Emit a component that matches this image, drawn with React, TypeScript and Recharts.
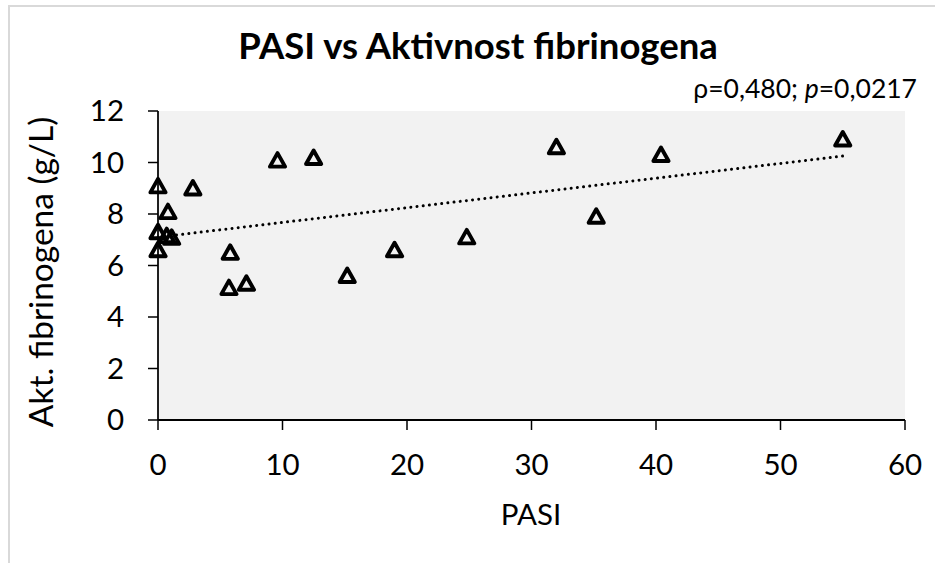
import React from 'react';
import { ScatterChart, Scatter, XAxis, YAxis, CartesianGrid } from 'recharts';

const pasi = [0, 0, 0, 0.8, 0.7, 1.1, 2.8, 5.8, 5.7, 7.1, 9.6, 12.5, 15.2, 19.0, 24.8, 32.0, 35.2, 40.4, 55.0];
const fibrinogen = [9.08, 7.3, 6.6, 8.08, 7.15, 7.08, 9.0, 6.5, 5.13, 5.3, 10.08, 10.18, 5.6, 6.6, 7.1, 10.6, 7.9, 10.3, 10.9];
const trendPasi = [0, 55];
const trendFib = [7.1, 10.25];
const xTicks = [0, 10, 20, 30, 40, 50, 60];
const yTicks = [0, 2, 4, 6, 8, 10, 12];

const points = pasi.map((x, i) => ({ x, y: fibrinogen[i] }));
const trend = trendPasi.map((x, i) => ({ x, y: trendFib[i] }));

const FONT = 'Lato, "Open Sans", sans-serif';

const Triangle = (props: any) => {
  const { cx, cy } = props;
  if (cx == null || cy == null) return <g />;
  const d = `M ${cx} ${cy - 7.3} L ${cx + 7.6} ${cy + 6.2} L ${cx - 7.6} ${cy + 6.2} Z`;
  return <path d={d} fill="none" stroke="#000" strokeWidth={3.9} strokeLinejoin="round" />;
};

const Nothing = () => <g />;

export default function App() {
  const tickStyle = { fill: '#000', fontSize: 29.5, fontFamily: FONT };
  return (
    <div style={{ position: 'absolute', left: 0, top: 0, width: 935, height: 563, background: '#fff', overflow: 'hidden' }}>
      <div
        style={{
          position: 'absolute',
          left: 8,
          top: 5,
          width: 940,
          height: 570,
          borderLeft: '2px solid #d9d9d9',
          borderTop: '2px solid #d9d9d9',
        }}
      />
      <div style={{ position: 'absolute', left: 0, top: 0 }}>
        <ScatterChart width={935} height={563} margin={{ top: 111, right: 30, bottom: 0, left: 0 }}>
          <CartesianGrid horizontal={false} vertical={false} fill="#f2f2f2" stroke="none" />
          <XAxis
            type="number"
            dataKey="x"
            domain={[0, 60]}
            ticks={xTicks}
            interval={0}
            height={143}
            tickSize={10}
            tickMargin={24}
            axisLine={{ stroke: '#000', strokeWidth: 2 }}
            tickLine={{ stroke: '#000', strokeWidth: 1.5 }}
            tick={tickStyle}
          />
          <YAxis
            type="number"
            dataKey="y"
            domain={[0, 12]}
            ticks={yTicks}
            interval={0}
            width={158}
            tickSize={10}
            tickMargin={24}
            axisLine={{ stroke: '#000', strokeWidth: 1.75 }}
            tickLine={{ stroke: '#000', strokeWidth: 1.5 }}
            tick={tickStyle}
          />
          <Scatter
            data={trend}
            line={{ stroke: '#000', strokeWidth: 3, strokeDasharray: '0.01 6.2', strokeLinecap: 'round' }}
            shape={Nothing}
            isAnimationActive={false}
          />
          <Scatter data={points} shape={Triangle} isAnimationActive={false} />
        </ScatterChart>
      </div>
      <svg
        width={935}
        height={563}
        style={{ position: 'absolute', left: 0, top: 0, pointerEvents: 'none' }}
      >
        <text x={478} y={59} textAnchor="middle" fontFamily={FONT} fontWeight={700} fontSize={36.5} fill="#000">
          PASI vs Aktivnost fibrinogena
        </text>
        <text x={917} y={98} textAnchor="end" fontFamily={FONT} fontSize={26.5} fill="#000">
          <tspan>ρ=0,480; </tspan>
          <tspan fontStyle="italic">p</tspan>
          <tspan>=0,0217</tspan>
        </text>
        <text x={531} y={525} textAnchor="middle" fontFamily={FONT} fontSize={29.5} fill="#000">
          PASI
        </text>
        <text
          x={0}
          y={0}
          transform="translate(53 272) rotate(-90)"
          textAnchor="middle"
          fontFamily={FONT}
          fontSize={33.5}
          fill="#000"
        >
          Akt. fibrinogena (g/L)
        </text>
      </svg>
    </div>
  );
}
